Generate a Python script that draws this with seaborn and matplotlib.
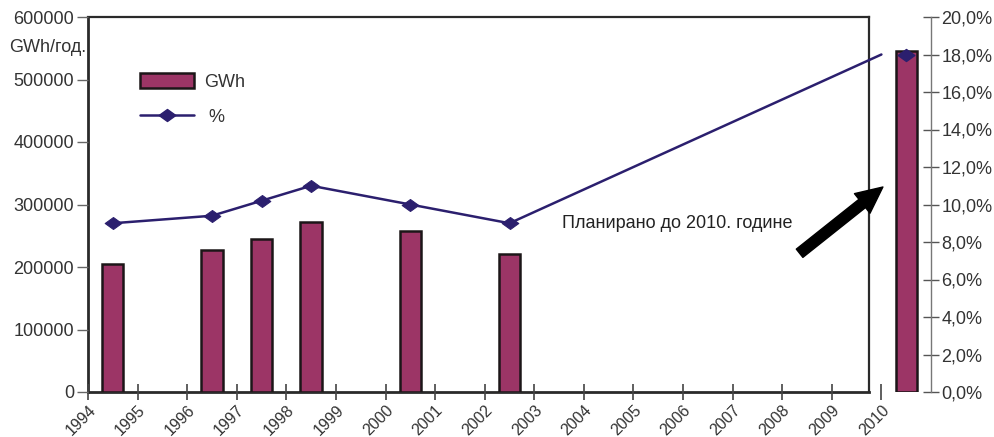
import matplotlib
matplotlib.use("Agg")
import matplotlib.pyplot as plt
import matplotlib.patches as mpatches
from matplotlib.lines import Line2D
from matplotlib.path import Path
from matplotlib.ticker import FuncFormatter
import numpy as np
import seaborn as sns

# Electricity output (GWh/year) and its share (%) by year
years = [1994, 1996, 1997, 1998, 2000, 2002]
gwh = [205000, 228000, 245000, 272000, 258000, 221000]
share_pct = [9.0, 9.4, 10.2, 11.0, 10.0, 9.0]

target_year = 2010
target_gwh = 546000
target_pct = 18.0

year_ticks = list(range(1994, 2011))
gwh_ticks = [0, 100000, 200000, 300000, 400000, 500000, 600000]
pct_ticks = [0, 2, 4, 6, 8, 10, 12, 14, 16, 18, 20]

series_labels = ["GWh", " %"]
unit_label = "GWh/год."
note_text = "Планирано до 2010. године"

BAR_COLOR = "#9c3566"
EDGE_COLOR = "#1c1618"
LINE_COLOR = "#2b1f6e"
TEXT_COLOR = "#333333"
FS = 13
FS_YEARS = 11.5

sns.set_theme(style="white")
plt.rcParams["font.family"] = ["Liberation Sans", "DejaVu Sans"]
plt.rcParams["font.size"] = FS

W, H = 994, 437
fig = plt.figure(figsize=(W / 100, H / 100), dpi=100)

def frac_box(x0, x1, ytop, ybot):
    return [x0 / W, 1 - ybot / H, (x1 - x0) / W, (ybot - ytop) / H]

# framed plotting area (history part)
frame = fig.add_axes(frac_box(88, 869, 17, 392))
frame.set_xticks([])
frame.set_yticks([])
frame.set_facecolor("white")
for side in ["left", "bottom", "top", "right"]:
    frame.spines[side].set_visible(True)
    frame.spines[side].set_color("#2a2a2a")
frame.spines["left"].set_linewidth(2.0)
frame.spines["bottom"].set_linewidth(2.0)
frame.spines["top"].set_linewidth(1.6)
frame.spines["right"].set_linewidth(1.6)

# data axes spanning history and the planned year
ax = fig.add_axes(frac_box(88, 931, 17, 392), zorder=2)
ax.patch.set_alpha(0)
for side in ["left", "bottom", "top", "right"]:
    ax.spines[side].set_visible(False)

bar_x = [y + 0.5 for y in years] + [target_year + 0.5]
bar_y = gwh + [target_gwh]
sns.barplot(x=bar_x, y=bar_y, native_scale=True, width=0.43,
            color=BAR_COLOR, saturation=1, edgecolor=EDGE_COLOR,
            linewidth=1.8, ax=ax)

ax.set_xlim(1994, 2011)
ax.set_ylim(0, 600000)
ax.set_xticks(year_ticks)
ax.set_xticklabels([str(y) for y in year_ticks], rotation=45, ha="right",
                   va="top", rotation_mode="anchor", color=TEXT_COLOR,
                   fontsize=FS_YEARS)
ax.set_yticks(gwh_ticks)
ax.set_yticklabels([str(v) for v in gwh_ticks], color=TEXT_COLOR, fontsize=FS)
ax.tick_params(axis="x", direction="inout", length=11, width=1.2,
               color="#444444", pad=2, bottom=True)
ax.tick_params(axis="y", direction="out", length=8, width=1.0,
               color="#666666", pad=2, left=True)
ax.set_xlabel("")
ax.set_ylabel("")

# share of total on the right axis
axp = ax.twinx()
axp.patch.set_alpha(0)
for side in ["left", "bottom", "top"]:
    axp.spines[side].set_visible(False)
axp.spines["right"].set_visible(True)
axp.spines["right"].set_color("#777777")
axp.spines["right"].set_linewidth(1.0)
axp.set_ylim(0, 20)
axp.set_yticks(pct_ticks)
axp.yaxis.set_major_formatter(FuncFormatter(lambda v, p: f"{v:.1f}%".replace(".", ",")))
axp.tick_params(axis="y", direction="inout", length=11, width=1.0,
                color="#555555", labelcolor=TEXT_COLOR, labelsize=FS, pad=2, right=True)

diamond = Path([(-1, 0), (0, 0.72), (1, 0), (0, -0.72), (-1, 0)],
               [Path.MOVETO, Path.LINETO, Path.LINETO, Path.LINETO, Path.CLOSEPOLY])

hist_x = [y + 0.5 for y in years]
sns.lineplot(x=hist_x, y=share_pct, ax=axp, color=LINE_COLOR, linewidth=1.8,
             marker=diamond, markersize=12, markeredgecolor=LINE_COLOR,
             sort=False, estimator=None)
# planned trend up to the target year
sns.lineplot(x=[hist_x[-1], target_year], y=[share_pct[-1], target_pct], ax=axp,
             color=LINE_COLOR, linewidth=1.8, sort=False, estimator=None)
axp.plot([target_year + 0.5], [target_pct], linestyle="none", marker=diamond,
         markersize=12, color=LINE_COLOR, markeredgecolor=LINE_COLOR)
axp.set_xlim(1994, 2011)
axp.set_ylabel("")

# unit label
fig.text(86 / W, 1 - 47 / H, unit_label, ha="right", va="center",
         fontsize=FS, color=TEXT_COLOR)

# legend
handles = [
    mpatches.Patch(facecolor=BAR_COLOR, edgecolor=EDGE_COLOR, linewidth=1.8),
    Line2D([], [], color=LINE_COLOR, linewidth=1.8, marker=diamond,
           markersize=12, markeredgecolor=LINE_COLOR),
]
fig.legend(handles, series_labels, loc="upper left",
           bbox_to_anchor=(140 / W, 1 - 73 / H), frameon=False,
           borderpad=0, borderaxespad=0, handlelength=3.0, handleheight=0.9,
           labelspacing=0.95, handletextpad=0.55, fontsize=FS,
           labelcolor=TEXT_COLOR)

# note and arrow pointing at the planned value
ax.text(2003.55, 270000, note_text, ha="left", va="center", fontsize=FS,
        color="#222222")
ax.annotate("", xy=(2010.03, 328000), xytext=(2008.35, 222000),
            arrowprops=dict(arrowstyle="simple,head_length=0.95,head_width=0.9,tail_width=0.38",
                            mutation_scale=20, facecolor="black",
                            edgecolor="black", shrinkA=0, shrinkB=0),
            annotation_clip=False)

fig.savefig("out.png", dpi=100, facecolor="white")
